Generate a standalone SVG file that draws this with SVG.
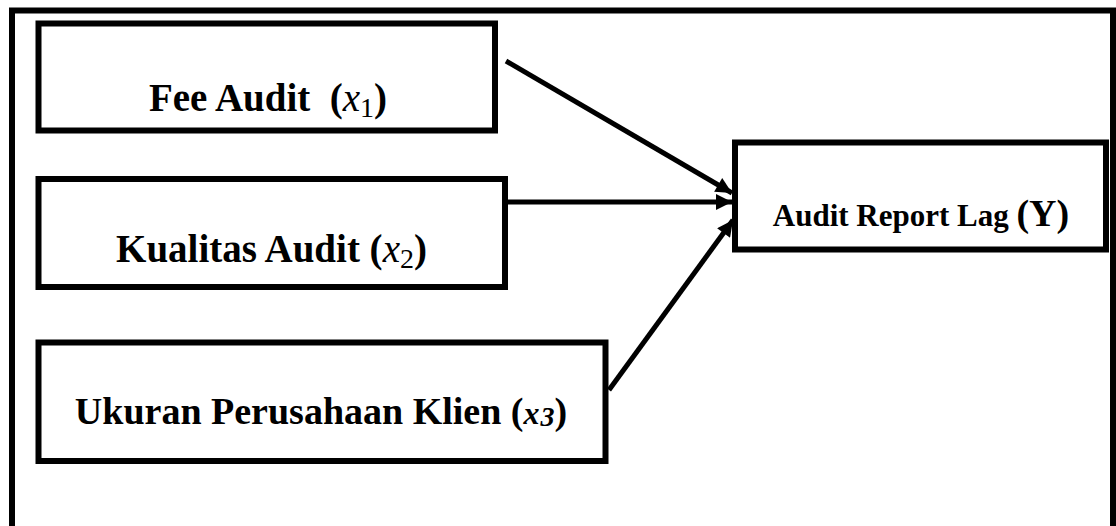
<svg xmlns="http://www.w3.org/2000/svg" width="1116" height="526" viewBox="0 0 1116 526">
<style>
.box{fill:#fff;stroke:#000;stroke-width:6}
.frame{fill:none;stroke:#000;stroke-width:6}
.lbl{font-family:"Liberation Serif","Times New Roman",serif;font-weight:bold;font-size:39px;fill:#000;text-anchor:middle;white-space:pre}
.mx{font-style:italic;font-weight:normal}
.sub{font-weight:normal;font-size:28px}
.conn{stroke:#000;stroke-width:5;fill:none;marker-end:url(#ah)}
</style>
<defs>
<marker id="ah" viewBox="0 0 10 10" refX="10" refY="5" markerWidth="3.4" markerHeight="3.2" orient="auto" markerUnits="strokeWidth">
<path d="M0,0 L10,5 L0,10 Z" fill="#000"/>
</marker>
</defs>
<rect width="1116" height="526" fill="#fff"/>
<path class="frame" d="M12,526 V10.5 H1113 V526"/>
<g id="connectors">
<line class="conn" x1="506" y1="61" x2="732" y2="193"/>
<line class="conn" x1="508" y1="202" x2="732" y2="202"/>
<line class="conn" x1="609" y1="390" x2="733" y2="220"/>
</g>
<g id="fee-audit">
<rect class="box" x="38.5" y="23.5" width="456.5" height="107"/>
<text class="lbl" x="268" y="111">Fee Audit  (<tspan class="mx">x</tspan><tspan class="sub" dy="6">1</tspan><tspan dy="-6">)</tspan></text>
</g>
<g id="kualitas-audit">
<rect class="box" x="38.5" y="179" width="466.5" height="108"/>
<text class="lbl" x="271.5" y="262">Kualitas Audit (<tspan class="mx">x</tspan><tspan class="sub" dy="6">2</tspan><tspan dy="-6">)</tspan></text>
</g>
<g id="ukuran-perusahaan">
<rect class="box" x="38.5" y="342.5" width="567" height="118.5"/>
<text class="lbl" x="321" y="424" style="font-size:38px">Ukuran Perusahaan Klien (<tspan style="font-style:italic;font-size:32px">x</tspan><tspan style="font-style:italic;font-size:28px" dx="1" dy="2">3</tspan><tspan dy="-2">)</tspan></text>
</g>
<g id="audit-report-lag">
<rect class="box" x="735" y="142.5" width="371" height="107"/>
<text class="lbl" x="921" y="226" style="font-size:31px">Audit Report Lag <tspan style="font-size:38px">(Y)</tspan></text>
</g>
</svg>
